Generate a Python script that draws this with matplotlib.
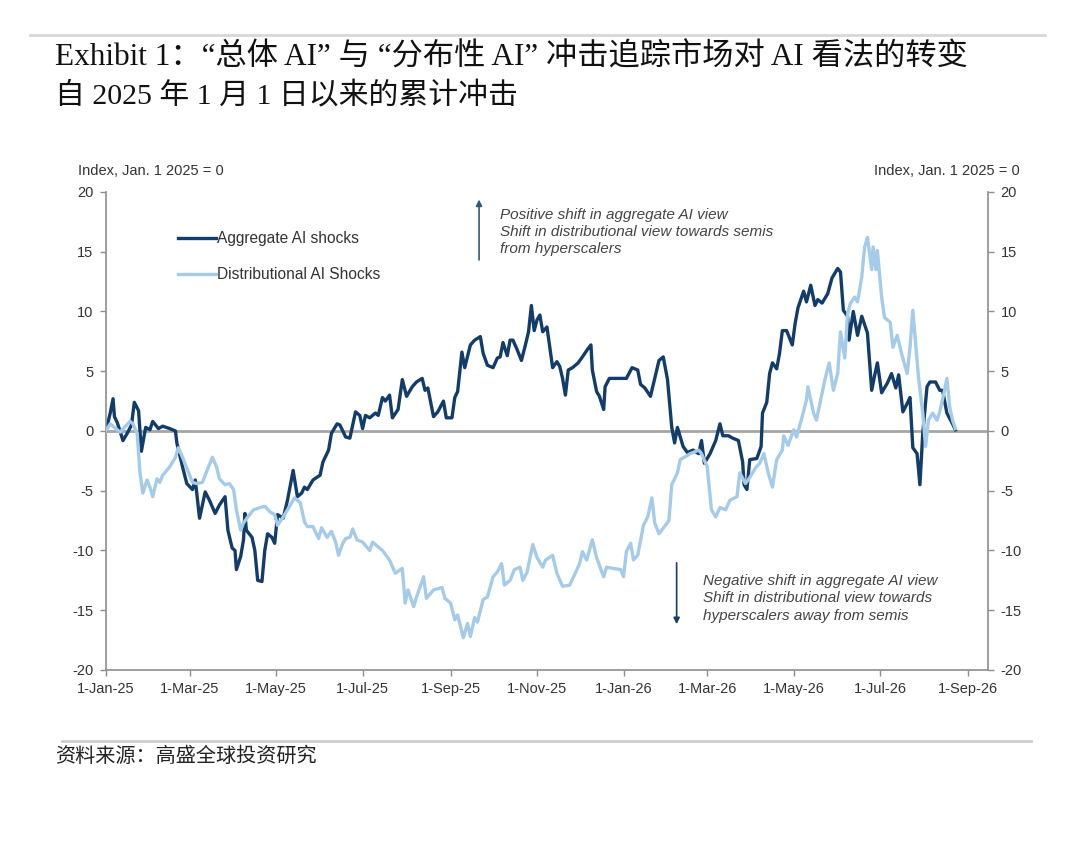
import numpy as np
import matplotlib as mpl

mpl.use('agg')

import matplotlib.pyplot as plt

# values, x in days since 1-Jan-2025
agg_days = [0, 3, 5, 6, 8, 12, 15, 18, 20, 23, 25, 28, 31, 33, 37, 40, 45, 49, 50, 54,
            57, 61, 63, 66, 70, 73, 77, 80, 84, 86, 89, 91, 92, 95, 97, 98, 99, 103, 105, 107,
            110, 112, 114, 117, 119, 121, 125, 128, 132, 135, 138, 140, 142, 146, 151, 153, 157, 159, 163, 165,
            169, 172, 176, 179, 181, 183, 186, 190, 192, 195, 197, 200, 202, 206, 209, 212, 216, 219, 223, 225,
            227, 231, 234, 238, 240, 244, 246, 248, 251, 253, 257, 260, 264, 266, 269, 273, 276, 278, 280, 283,
            285, 287, 290, 293, 296, 298, 300, 302, 304, 306, 308, 311, 313, 315, 318, 320, 322, 324, 326, 329,
            333, 336, 340, 342, 343, 346, 348, 351, 352, 355, 360, 364, 367, 371, 375, 377, 380, 384, 387, 390,
            393, 396, 399, 401, 403, 407, 410, 414, 418, 420, 422, 426, 430, 433, 435, 439, 442, 446, 449, 450,
            452, 454, 459, 462, 463, 466, 468, 470, 473, 475, 477, 480, 484, 486, 488, 492, 494, 497, 500, 502,
            505, 509, 512, 516, 518, 520, 523, 524, 527, 530, 533, 537, 540, 542, 544, 547, 551, 554, 557, 559,
            562, 565, 567, 569, 572, 574, 576, 579, 581, 585, 588, 590, 593, 597, 599]
agg_vals = [0.0, 1.5, 2.7, 1.2, 0.7, -0.8, -0.2, 0.5, 2.4, 1.7, -1.7, 0.3, 0.1, 0.8, 0.2, 0.4, 0.2, 0.0, -1.0, -3.0,
            -4.4, -4.9, -4.1, -7.3, -5.1, -5.8, -6.9, -6.2, -5.5, -8.3, -9.8, -10.0, -11.6, -10.5, -9.1, -6.9, -8.3, -8.9, -10.0, -12.5,
            -12.6, -10.0, -8.6, -8.9, -9.4, -7.0, -7.3, -5.8, -3.3, -5.5, -5.2, -4.7, -4.9, -4.1, -3.7, -2.6, -1.6, -0.2, 0.6, 0.5,
            -0.5, -0.6, 1.6, 1.3, 0.2, 1.3, 1.1, 1.5, 1.3, 2.8, 2.5, 3.0, 1.1, 1.8, 4.3, 2.9, 3.7, 4.1, 4.4, 3.4,
            3.6, 1.2, 1.6, 2.5, 1.1, 1.1, 2.8, 3.3, 6.6, 5.3, 7.2, 7.6, 7.9, 6.5, 5.5, 5.3, 6.1, 6.2, 7.4, 6.3,
            7.6, 7.6, 6.8, 5.9, 7.3, 8.3, 10.5, 8.4, 9.3, 9.7, 8.3, 8.7, 7.0, 5.3, 5.8, 5.4, 4.4, 3.0, 5.1, 5.3,
            5.7, 6.2, 6.9, 7.2, 5.1, 3.3, 2.9, 1.8, 3.7, 4.4, 4.4, 4.4, 4.4, 5.3, 5.1, 3.9, 3.6, 2.9, 4.4, 5.9,
            6.2, 4.3, 0.3, -1.0, 0.3, -1.3, -1.8, -1.6, -1.9, -0.8, -2.7, -1.9, -0.8, 0.6, -0.4, -0.4, -0.6, -0.8, -2.6, -4.5,
            -4.9, -2.4, -2.3, -1.3, 1.5, 2.4, 4.8, 5.7, 5.2, 6.5, 8.4, 8.4, 7.2, 9.0, 10.3, 11.7, 10.8, 12.2, 10.5, 11.0,
            10.7, 11.5, 12.8, 13.6, 13.3, 10.1, 9.6, 7.6, 10.0, 8.0, 9.6, 8.2, 3.4, 4.6, 5.7, 3.2, 4.0, 4.8, 3.6, 4.7,
            1.6, 2.3, 2.8, -1.4, -1.9, -4.5, -0.2, 3.7, 4.1, 4.1, 3.4, 3.4, 1.5, 0.6, 0.1]

dist_days = [0, 3, 6, 10, 13, 17, 19, 22, 24, 26, 29, 31, 33, 36, 38, 40, 45, 49, 51, 54,
             57, 61, 64, 68, 71, 73, 75, 78, 80, 84, 87, 90, 92, 95, 97, 100, 104, 109, 112, 116,
             119, 121, 125, 130, 133, 137, 140, 142, 146, 150, 152, 156, 159, 162, 164, 167, 169, 172, 174, 177,
             181, 186, 188, 192, 195, 200, 204, 209, 211, 213, 217, 219, 224, 226, 231, 237, 239, 243, 246, 248,
             252, 255, 257, 260, 262, 266, 269, 273, 276, 279, 281, 285, 288, 292, 294, 297, 301, 304, 308, 310,
             315, 318, 322, 327, 331, 334, 336, 339, 343, 346, 351, 353, 358, 363, 365, 367, 370, 372, 375, 379,
             382, 385, 387, 390, 397, 399, 403, 405, 412, 418, 420, 424, 427, 430, 433, 437, 440, 445, 447, 451,
             454, 458, 461, 464, 467, 470, 473, 477, 478, 481, 485, 487, 491, 494, 495, 499, 501, 504, 507, 510,
             513, 516, 518, 521, 523, 525, 528, 530, 533, 535, 537, 540, 541, 543, 544, 547, 549, 553, 555, 558,
             561, 565, 567, 569, 571, 573, 576, 578, 580, 583, 586, 588, 591, 593, 595, 597, 599]
dist_vals = [0.0, 0.6, 0.3, -0.1, 0.3, 0.8, 0.6, -0.2, -3.5, -5.2, -4.1, -4.7, -5.5, -4.0, -4.3, -3.7, -3.0, -2.2, -1.4, -2.2,
             -3.1, -4.3, -4.4, -4.3, -3.4, -2.8, -2.2, -3.0, -4.0, -4.5, -4.4, -4.9, -6.6, -8.3, -7.7, -7.2, -6.6, -6.4, -6.3, -6.8,
             -7.0, -7.9, -7.2, -6.2, -5.6, -6.0, -7.6, -8.0, -8.0, -9.0, -8.1, -8.9, -8.4, -9.3, -10.4, -9.4, -9.0, -8.9, -8.2, -9.1,
             -9.3, -10.0, -9.3, -9.7, -10.0, -10.8, -11.9, -11.5, -14.4, -13.3, -14.7, -13.9, -12.2, -14.0, -13.3, -13.1, -14.0, -14.4, -15.8, -15.4,
             -17.3, -16.1, -17.2, -15.6, -16.0, -14.1, -13.9, -12.2, -11.8, -11.1, -12.9, -12.5, -11.6, -11.4, -12.5, -11.8, -9.5, -10.6, -11.4, -10.8,
             -10.4, -11.9, -13.0, -12.9, -11.9, -11.1, -10.1, -10.8, -9.1, -10.6, -12.2, -11.4, -11.5, -11.6, -12.2, -10.1, -9.4, -10.8, -10.4, -7.9,
             -7.2, -5.6, -7.7, -8.6, -7.5, -4.5, -3.5, -2.4, -1.9, -1.6, -1.9, -3.0, -6.6, -7.2, -6.4, -6.6, -5.8, -5.5, -3.5, -4.4,
             -3.9, -3.1, -2.7, -1.9, -3.5, -4.7, -2.4, -1.6, -0.4, -1.2, 0.1, -0.5, 1.2, 2.6, 3.7, 1.5, 0.9, 2.6, 4.3, 5.7,
             3.4, 4.8, 8.3, 6.1, 9.8, 10.7, 11.2, 10.8, 12.9, 15.4, 16.2, 13.5, 15.4, 13.5, 15.1, 11.2, 9.5, 9.1, 7.0, 8.0,
             6.5, 4.8, 7.0, 10.1, 7.3, 4.5, 1.5, -1.3, 0.9, 1.5, 0.9, 1.6, 3.2, 4.4, 2.0, 0.9, 0.2]

tick_dates = ['2025-01-01', '2025-03-01', '2025-05-01', '2025-07-01', '2025-09-01', '2025-11-01',
              '2026-01-01', '2026-03-01', '2026-05-01', '2026-07-01', '2026-09-01']
tick_labels = ['1-Jan-25', '1-Mar-25', '1-May-25', '1-Jul-25', '1-Sep-25', '1-Nov-25',
               '1-Jan-26', '1-Mar-26', '1-May-26', '1-Jul-26', '1-Sep-26']
y_ticks = [-20, -15, -10, -5, 0, 5, 10, 15, 20]

start = np.datetime64('2025-01-01')
agg_x = start + np.array(agg_days).astype('timedelta64[D]')
dist_x = start + np.array(dist_days).astype('timedelta64[D]')

dark = '#123d6a'
light = '#a4cbea'
grey = '#8e8e8e'
txt = '#333333'

plt.rcParams['font.family'] = ['Liberation Sans', 'DejaVu Sans']

fig = plt.figure(figsize=(10.8, 8.42), dpi=100)
ax = fig.add_axes([0.0981, 0.2043, 0.8167, 0.5677])

ax.axhline(0, color='#a6a6a6', lw=2, zorder=1)
ax.plot(agg_x, agg_vals, color=dark, lw=2.4, label='Aggregate AI shocks', zorder=2)
ax.plot(dist_x, dist_vals, color=light, lw=2.4, label='Distributional AI Shocks', zorder=3)

ax.set_xlim(start, np.datetime64('2026-09-15'))
ax.set_ylim(-20, 20)
ax.set_xticks(np.array(tick_dates, dtype='datetime64[D]'))
ax.set_xticklabels(tick_labels)
ax.set_yticks(y_ticks)
ax.set_yticklabels([str(v) for v in y_ticks])

for s in ['left', 'right', 'bottom']:
    ax.spines[s].set_color(grey)
    ax.spines[s].set_linewidth(1.2)
ax.spines['top'].set_visible(False)
ax.tick_params(axis='both', colors=grey, labelcolor=txt, labelsize=10.5, length=4, width=1)
ax.tick_params(axis='y', right=True, labelright=True, pad=5)
ax.tick_params(axis='x', pad=5)

ax.text(-0.032, 1.03, 'Index, Jan. 1 2025 = 0', transform=ax.transAxes, fontsize=10.5,
        color=txt, ha='left', va='bottom')
ax.text(1.036, 1.03, 'Index, Jan. 1 2025 = 0', transform=ax.transAxes, fontsize=10.5,
        color=txt, ha='right', va='bottom')

ax.legend(loc='upper left', bbox_to_anchor=(0.082, 0.918), frameon=False, fontsize=11.2,
          handlelength=2.4, handletextpad=0.1, labelspacing=1.35, borderpad=0,
          borderaxespad=0, labelcolor=txt)

# direction notes
ax.annotate('', xy=(0.423, 0.99), xytext=(0.423, 0.852), xycoords='axes fraction',
            arrowprops=dict(arrowstyle='-|>', color='#34587d', lw=1.2, mutation_scale=9))
ax.text(0.447, 0.966, 'Positive shift in aggregate AI view\nShift in distributional view towards semis\nfrom hyperscalers',
        transform=ax.transAxes, fontsize=11, style='italic', color='#444444', va='top', linespacing=1.28)
ax.annotate('', xy=(0.647, 0.09), xytext=(0.647, 0.23), xycoords='axes fraction',
            arrowprops=dict(arrowstyle='-|>', color='#1c3d62', lw=1.2, mutation_scale=9))
ax.text(0.677, 0.2, 'Negative shift in aggregate AI view\nShift in distributional view towards\nhyperscalers away from semis',
        transform=ax.transAxes, fontsize=11, style='italic', color='#444444', va='top', linespacing=1.28)

title_font = ['Liberation Serif', 'Noto Sans CJK SC']
fig.text(0.051, 0.931, 'Exhibit 1：“总体 AI” 与 “分布性 AI” 冲击追踪市场对 AI 看法的转变',
         family=title_font, fontsize=22.5, color='#111111', va='center', ha='left')
fig.text(0.051, 0.886, '自 2025 年 1 月 1 日以来的累计冲击',
         family=title_font, fontsize=21.5, color='#111111', va='center', ha='left')

fig.add_artist(plt.Line2D([0.028, 0.968], [0.958, 0.958], color='#d8d8d8', lw=2))
fig.add_artist(plt.Line2D([0.057, 0.955], [0.12, 0.12], color='#cccccc', lw=2))
fig.text(0.051, 0.102, '资料来源：高盛全球投资研究', family=['Noto Sans CJK SC', 'DejaVu Sans'],
         fontsize=14.5, color='#222222', va='center', ha='left')

fig.savefig('out.png', dpi=100)
